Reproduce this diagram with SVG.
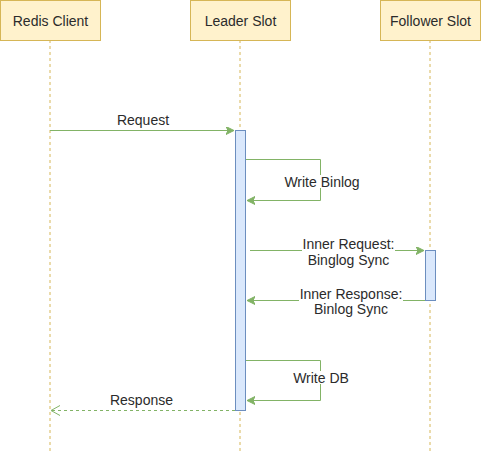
<svg xmlns="http://www.w3.org/2000/svg" width="481" height="451" viewBox="0 0 481 451">
<style>
.box{fill:#fff2cc;stroke:#d6b656;stroke-width:1}
.life{stroke:#d6b656;stroke-width:1;stroke-dasharray:3 3;fill:none}
.act{fill:#dae8fc;stroke:#6c8ebf;stroke-width:1}
.msg{stroke:#82b366;stroke-width:1;fill:none}
.lbl{font-family:"Liberation Sans",Arial,sans-serif;font-size:14px;fill:#2b2b2b;text-anchor:middle}
.bg{fill:#ffffff}
</style>
<defs>
<marker id="block" markerWidth="10" markerHeight="10" refX="8" refY="4" orient="auto" markerUnits="userSpaceOnUse">
<path d="M0,0 L8,4 L0,8 L2,4 Z" fill="#82b366" stroke="#82b366" stroke-width="1"/>
</marker>
<marker id="open" markerWidth="12" markerHeight="12" refX="9" refY="5" orient="auto" markerUnits="userSpaceOnUse">
<path d="M0,0 L9,5 L0,10" fill="none" stroke="#82b366" stroke-width="1"/>
</marker>
</defs>
<g id="redis-client">
<line class="life" x1="50" y1="40" x2="50" y2="451"/>
<rect class="box" x="0.5" y="0.5" width="100" height="40"/>
<text class="lbl" x="50.5" y="25.5">Redis Client</text>
</g>
<g id="leader-slot">
<line class="life" x1="240" y1="40" x2="240" y2="451"/>
<rect class="box" x="190.5" y="0.5" width="100" height="40"/>
<text class="lbl" x="240.5" y="25.5">Leader Slot</text>
<rect class="act" x="235.5" y="130.5" width="10" height="280"/>
</g>
<g id="follower-slot">
<line class="life" x1="430" y1="40" x2="430" y2="451"/>
<rect class="box" x="380.5" y="0.5" width="100" height="40"/>
<text class="lbl" x="430.5" y="25.5">Follower Slot</text>
<rect class="act" x="425.5" y="250.5" width="10" height="50"/>
</g>
<g id="connectors">
<line class="msg" x1="50" y1="130.5" x2="234" y2="130.5" marker-end="url(#block)"/>
<rect class="bg" x="116" y="113" width="54" height="15"/>
<text class="lbl" x="143" y="125">Request</text>

<path class="msg" d="M246,159.5 H320.5 V200.5 H247" marker-end="url(#block)"/>
<rect class="bg" x="284" y="175" width="77" height="13"/>
<text class="lbl" x="322" y="186.5">Write Binlog</text>

<line class="msg" x1="250" y1="250.5" x2="424" y2="250.5" marker-end="url(#block)"/>
<rect class="bg" x="302" y="237" width="93" height="31"/>
<text class="lbl" x="348.5" y="249">Inner Request:</text>
<text class="lbl" x="348.5" y="265">Binglog Sync</text>

<line class="msg" x1="425" y1="300.5" x2="247" y2="300.5" marker-end="url(#block)"/>
<rect class="bg" x="299" y="287" width="104" height="31"/>
<text class="lbl" x="351" y="298.5">Inner Response:</text>
<text class="lbl" x="351" y="314">Binlog Sync</text>

<path class="msg" d="M246,360.5 H320.5 V400.5 H247" marker-end="url(#block)"/>
<rect class="bg" x="293" y="371" width="56" height="13"/>
<text class="lbl" x="321" y="382.5">Write DB</text>

<line class="msg" x1="235" y1="410.5" x2="51" y2="410.5" stroke-dasharray="3 3" marker-end="url(#open)"/>
<rect class="bg" x="109" y="393" width="66" height="15"/>
<text class="lbl" x="141.5" y="405">Response</text>
</g>
</svg>
